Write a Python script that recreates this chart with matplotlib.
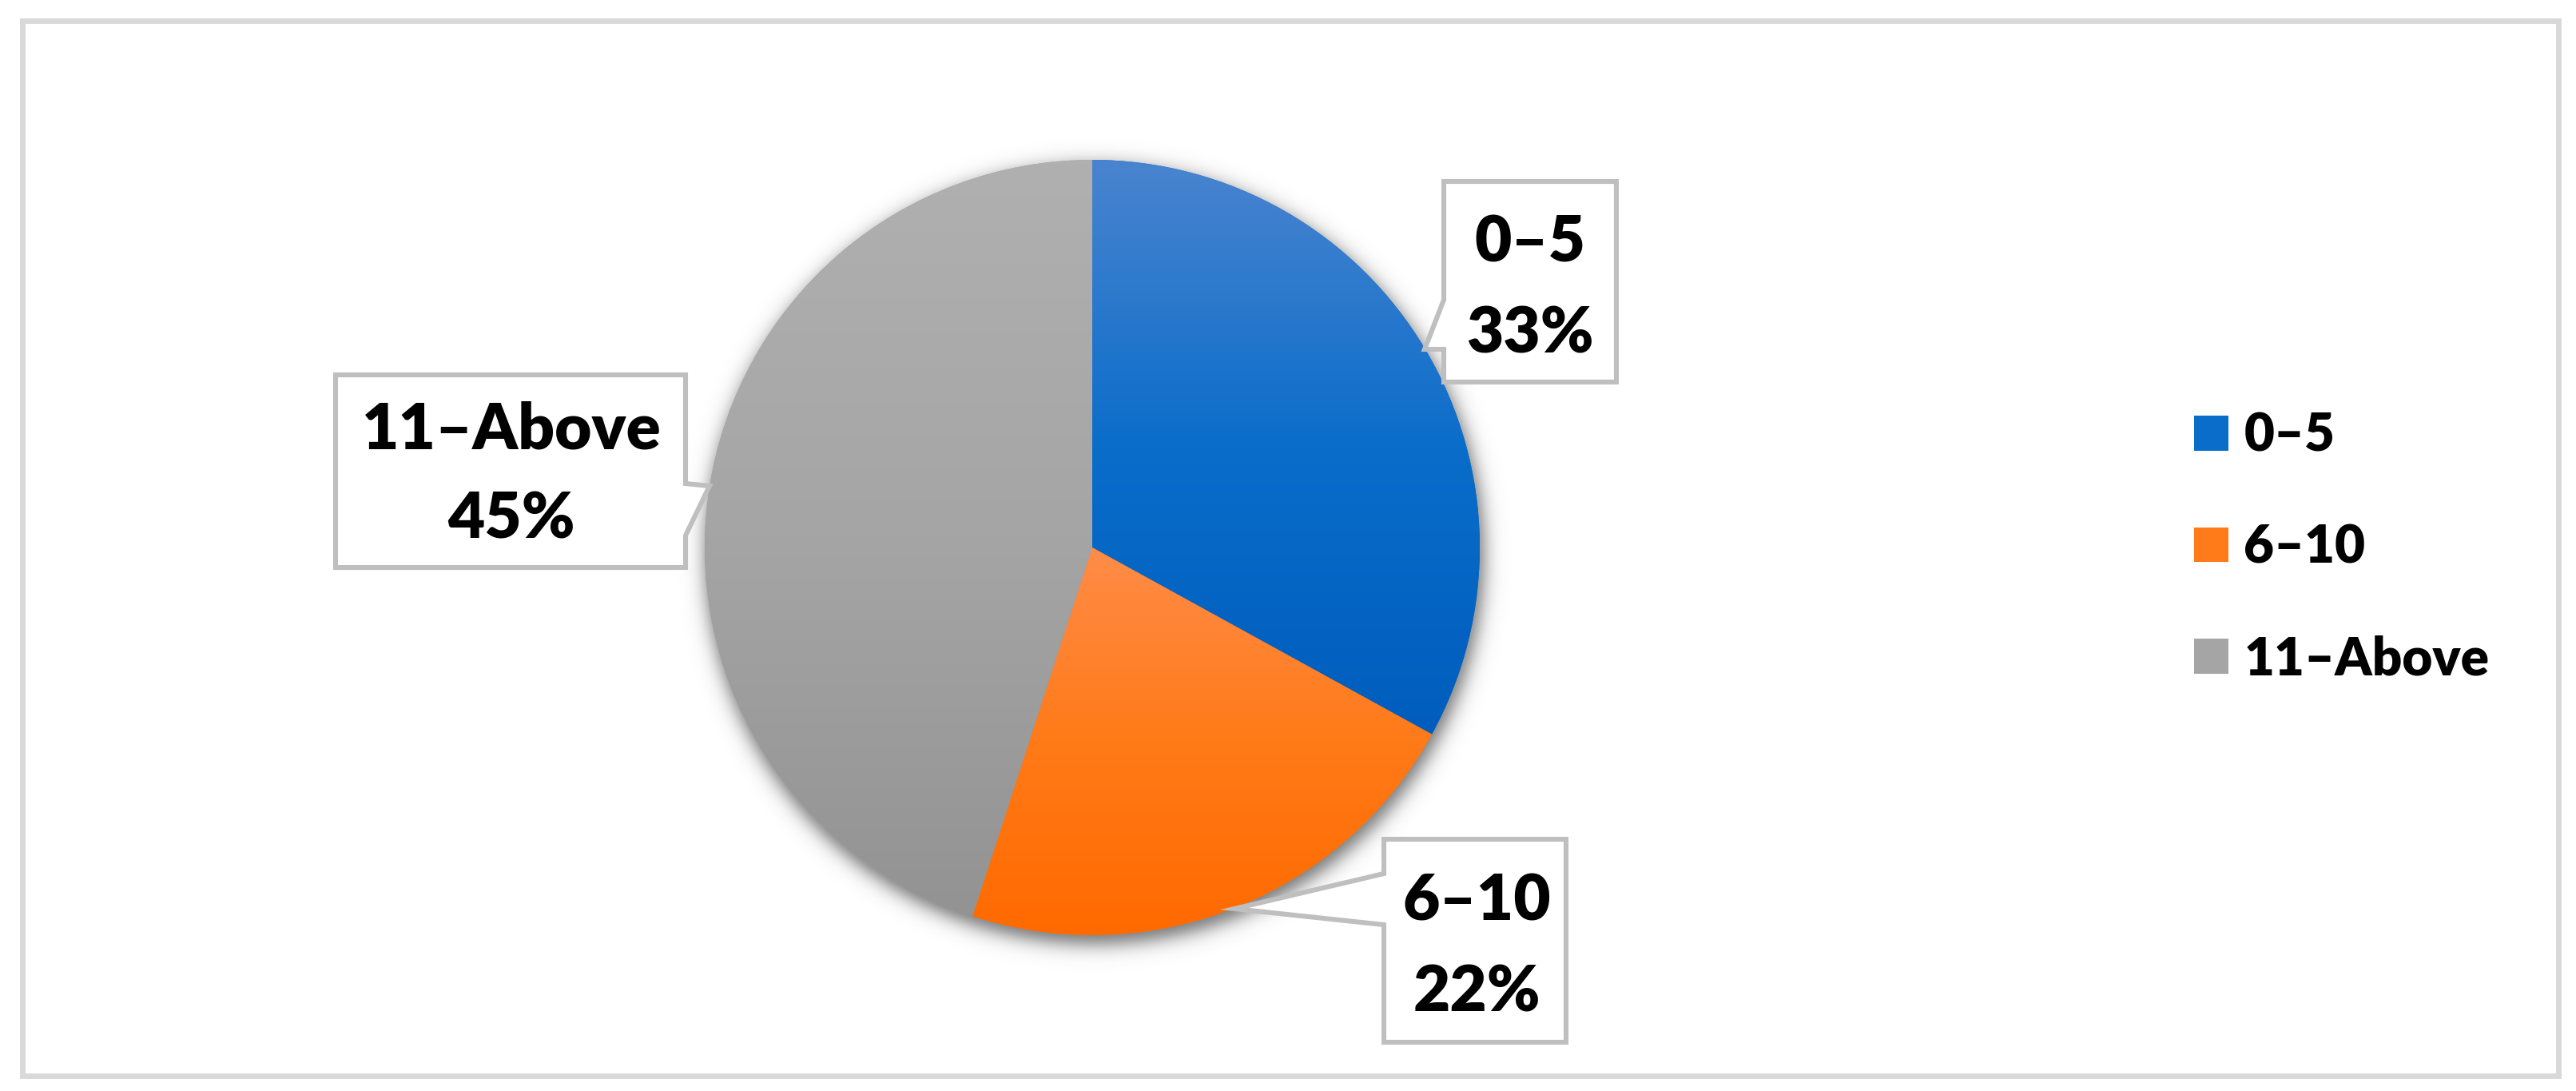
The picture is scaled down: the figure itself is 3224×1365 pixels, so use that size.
import numpy as np
import matplotlib
matplotlib.use("Agg")
import matplotlib.pyplot as plt
from matplotlib.colors import LinearSegmentedColormap
from matplotlib.patches import Polygon, Rectangle

# ---------------- data ----------------
labels = ["0\u20135", "6\u201310", "11\u2013Above"]
shares = [33, 22, 45]

# ---------------- styling ----------------
base_colors = ["#0a6dca", "#ff7a18", "#a5a5a5"]
# top / middle / bottom stops of the vertical gradient in each slice
grad_stops = [("#4a84cf", "#0a6dca", "#005dbd"),
              ("#ff8c48", "#ff7a18", "#ff6a00"),
              ("#b0b0b0", "#a5a5a5", "#939393")]

W, H = 3224, 1365
plt.rcParams["font.family"] = ["Lato", "DejaVu Sans"]
plt.rcParams["font.weight"] = "heavy"


def iy(y):
    # image row (from top) -> data y (from bottom)
    return H - y


fig = plt.figure(figsize=(W / 200, H / 200), dpi=200)
ax = fig.add_axes([0, 0, 1, 1])

cx, cy, r = 1367, iy(685), 485

wedges, _ = ax.pie(shares, colors=base_colors, startangle=90, counterclock=False,
                   center=(cx, cy), radius=r, wedgeprops=dict(linewidth=0))

# gradient fill clipped to each wedge
for w, g in zip(wedges, grad_stops):
    t = np.radians(np.linspace(w.theta1, w.theta2, 200))
    ys = np.r_[cy, cy + r * np.sin(t)]
    cmap = LinearSegmentedColormap.from_list("", g)
    im = ax.imshow(np.linspace(0, 1, 256)[:, None], cmap=cmap,
                   extent=(cx - r, cx + r, ys.min(), ys.max()),
                   origin="upper", aspect="auto", zorder=1.5,
                   interpolation="bilinear")
    im.set_clip_path(w)

# soft drop shadow under the pie
pad = 90
xs = np.arange(cx - r - pad, cx + r + pad)
ysg = np.arange(cy - r - pad, cy + r + pad)
X, Y = np.meshgrid(xs, ysg)
d = np.hypot(X - (cx + 3), Y - (cy - 9)) - (r + 3)
shadow = np.zeros(X.shape + (4,))
shadow[..., 3] = 0.55 / (1 + np.exp(d / 7))
ax.imshow(shadow, extent=(xs[0], xs[-1], ysg[0], ysg[-1]), origin="lower",
          aspect="auto", zorder=0.5)

# callout boxes (image coordinates), one per slice
callouts = [
    [(1807, 227), (2023, 227), (2023, 478), (1807, 478), (1807, 437), (1783, 437), (1807, 375)],
    [(1732, 1050), (1960, 1050), (1960, 1304), (1732, 1304), (1732, 1157), (1545, 1137), (1732, 1093)],
    [(420, 469), (858, 469), (858, 605), (888, 608), (858, 670), (858, 710), (420, 710)],
]
text_pos = [(1915, 328, 442), (1848, 1152, 1265), (640, 562, 673)]

for poly, (tx, b1, b2), lab, v in zip(callouts, text_pos, labels, shares):
    ax.add_patch(Polygon([(x, iy(y)) for x, y in poly], closed=True, fc="white",
                         ec="#bfbfbf", lw=2.2, joinstyle="miter", zorder=3))
    ax.text(tx, iy(b1), lab, ha="center", va="baseline", fontsize=28.8, zorder=4)
    ax.text(tx, iy(b2), f"{v}%", ha="center", va="baseline", fontsize=28.8, zorder=4)

ax.legend(wedges, labels, loc="center left", bbox_to_anchor=(2746 / W, iy(685) / H),
          frameon=False, fontsize=23.6, handlelength=0.65, handleheight=0.65,
          handletextpad=0.3, labelspacing=1.2, borderpad=0, borderaxespad=0)

# outer frame
ax.add_patch(Rectangle((27.5, iy(1345.5)), 3174, 1320, fill=False,
                       ec="#d9d9d9", lw=2.5, zorder=5))

ax.set_xlim(0, W)
ax.set_ylim(0, H)
ax.set_aspect("equal")
ax.axis("off")

fig.savefig("out.png", dpi=200, facecolor="white")
